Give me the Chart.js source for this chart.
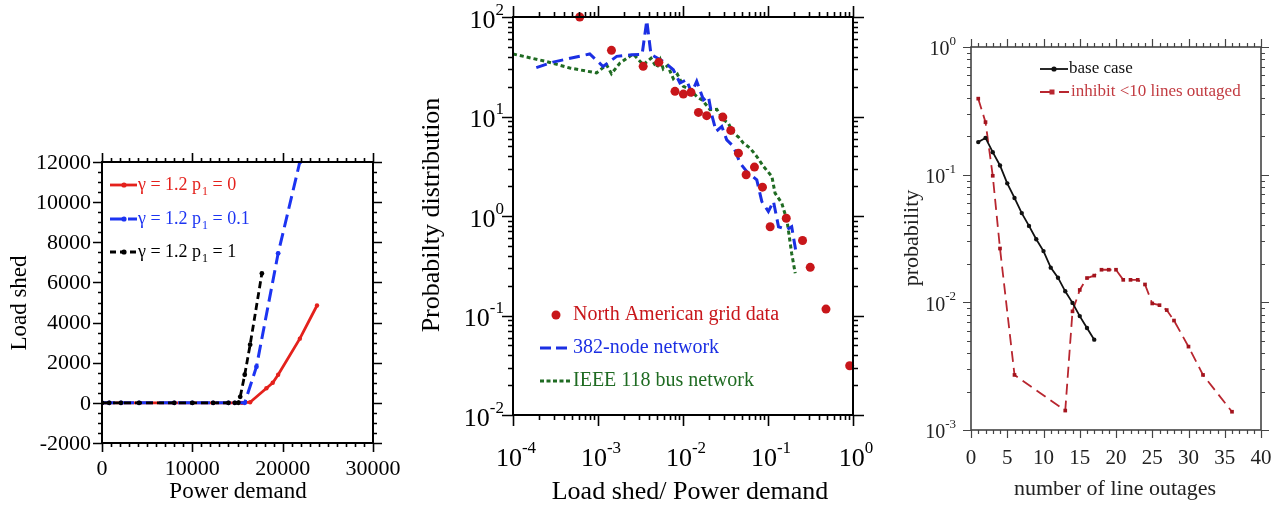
<!DOCTYPE html>
<html>
<head>
<meta charset="utf-8">
<script src="https://cdn.jsdelivr.net/npm/chart.js@4.4.0/dist/chart.umd.min.js"></script>
<style>
body { margin: 0; background: #fff; width: 1285px; height: 506px; overflow: hidden; position: relative; }
canvas { position: absolute; top: 0; }
</style>
</head>
<body>
<canvas id="c1" width="405" height="506" style="left:0px"></canvas>
<canvas id="c2" width="475" height="506" style="left:405px"></canvas>
<canvas id="c3" width="405" height="506" style="left:880px"></canvas>
<script>
// ---- panel 1 : load shed vs power demand
const demandRed = [0, 800, 2100, 4100, 8000, 10000, 12300, 14000, 14700, 15500, 16400, 18200, 18900, 19500, 21900, 23800];
const shedRed = [0, 0, 0, 0, 0, 0, 0, 0, 0, 0, 30, 730, 1000, 1400, 3200, 4850];
const demandBlue = [0, 800, 2100, 4100, 8000, 10000, 12300, 14000, 14700, 15800, 17100, 19500, 21900];
const shedBlue = [0, 0, 0, 0, 0, 0, 0, 0, 0, 0, 1800, 7450, 12000];
const demandBlack = [0, 800, 2100, 4100, 8000, 10000, 12300, 14000, 14700, 15100, 15300, 15800, 16400, 17700];
const shedBlack = [0, 0, 0, 0, 0, 0, 0, 0, 0, 0, 300, 1400, 2900, 6450];
const p1Labels = ['γ = 1.2 p', 'γ = 1.2 p', 'γ = 1.2 p'];
const p1Values = ['0', '0.1', '1'];
const p1XTicks = [0, 10000, 20000, 30000];
const p1YTicks = [-2000, 0, 2000, 4000, 6000, 8000, 10000, 12000];

// ---- panel 2 : probability distribution
const gridX = [6.1e-4, 1.44e-3, 3.4e-3, 5.2e-3, 8.05e-3, 0.0101, 0.0124, 0.0152, 0.019, 0.0294, 0.0365, 0.0449, 0.0553, 0.0693, 0.0861, 0.106, 0.164, 0.255, 0.314, 0.481, 0.914];
const gridY = [100, 46.2, 31.9, 35, 17.9, 16.8, 17.5, 11.0, 10.2, 9.87, 7.25, 4.28, 2.6, 3.1, 1.95, 0.78, 0.95, 0.567, 0.305, 0.116, 0.0313];
const nodeX = [1.88e-4, 2.96e-4, 8.0e-4, 1.15e-3, 1.66e-3, 2.48e-3, 3.3e-3, 3.75e-3, 4.2e-3, 5.86e-3, 7.7e-3, 9.2e-3, 0.011, 0.0126, 0.0145, 0.0174, 0.0199, 0.0218, 0.0245, 0.0286, 0.0327, 0.0392, 0.047, 0.0562, 0.0738, 0.0845, 0.101, 0.116, 0.133, 0.167, 0.19, 0.215];
const nodeY = [31, 35.2, 42.5, 31.8, 40.2, 41.7, 42, 92, 42, 35.8, 29.5, 21.7, 23.4, 17.2, 22.6, 14.7, 15.9, 10.4, 7.08, 7.94, 5.83, 5.0, 3.4, 2.8, 2.31, 1.4, 1.11, 1.4, 0.78, 0.73, 0.78, 0.42];
const busX = [1e-4, 2.47e-4, 4.66e-4, 9.6e-4, 1.26e-3, 1.44e-3, 1.81e-3, 2.6e-3, 3.4e-3, 4.2e-3, 4.9e-3, 5.4e-3, 5.86e-3, 6.6e-3, 7.69e-3, 8.6e-3, 0.0101, 0.0118, 0.0145, 0.017, 0.0208, 0.025, 0.0299, 0.034, 0.0392, 0.045, 0.0514, 0.0616, 0.0738, 0.0885, 0.111, 0.121, 0.145, 0.167, 0.19, 0.209];
const busY = [42.5, 35.7, 30.7, 27.4, 33.1, 26.9, 34.4, 42.5, 33.1, 38.5, 31, 37.2, 30, 32.5, 24, 26.5, 20.1, 19, 15.9, 14.5, 11.7, 11.8, 9.27, 8.6, 6.81, 6.2, 5.4, 4.81, 3.96, 3.15, 2.5, 1.7, 1.35, 0.91, 0.42, 0.266];
const p2Names = ['North American grid data', '382-node network', 'IEEE 118 bus network'];

// ---- panel 3 : line outages
const baseX = [1, 2, 3, 4, 5, 6, 7, 8, 9, 10, 11, 12, 13, 14, 15, 16, 17];
const baseY = [0.18, 0.194, 0.15, 0.118, 0.0855, 0.0657, 0.05, 0.0397, 0.0312, 0.0252, 0.0187, 0.0156, 0.0122, 0.0099, 0.0078, 0.0063, 0.0051];
const inhibitX = [1, 2, 3, 4, 6, 13, 14, 15, 16, 17, 18, 19, 20, 21, 22, 23, 24, 25, 26, 27, 28, 30, 32, 36];
const inhibitY = [0.394, 0.258, 0.098, 0.0264, 0.0027, 0.00142, 0.0085, 0.0125, 0.0155, 0.0162, 0.018, 0.018, 0.018, 0.015, 0.015, 0.015, 0.0138, 0.0098, 0.0095, 0.0087, 0.0072, 0.0045, 0.0027, 0.00139];
const p3Names = ['base case', 'inhibit <10 lines outaged'];
const p3XTicks = [0, 5, 10, 15, 20, 25, 30, 35, 40];

const SERIF = '"Liberation Serif", "Times New Roman", serif';

function pts(xs, ys) {
  return xs.map((x, i) => ({ x: x, y: ys[i] }));
}
function range(a, b, step) {
  const out = [];
  for (let v = a; v <= b + 1e-9; v += step) out.push(v);
  return out;
}
function decades(e0, e1) {
  return range(e0, e1, 1).map(e => Math.pow(10, e));
}
function logMinor(e0, e1) {
  const out = [];
  for (let e = e0; e < e1; e++) for (let m = 2; m <= 9; m++) out.push(m * Math.pow(10, e));
  return out;
}

// frame + outward ticks on all four sides
function drawFrame(chart, o) {
  const ctx = chart.ctx, a = chart.chartArea;
  const xs = chart.scales.x, ys = chart.scales.y;
  ctx.save();
  ctx.strokeStyle = o.color;
  ctx.lineWidth = o.tw;
  ctx.beginPath();
  const xt = (list, len) => list.forEach(v => {
    const p = Math.round(xs.getPixelForValue(v)) + 0.5;
    ctx.moveTo(p, a.bottom); ctx.lineTo(p, a.bottom + len);
    ctx.moveTo(p, a.top); ctx.lineTo(p, a.top - len);
  });
  const yt = (list, len) => list.forEach(v => {
    const p = Math.round(ys.getPixelForValue(v)) + 0.5;
    ctx.moveTo(a.left, p); ctx.lineTo(a.left - len, p);
    ctx.moveTo(a.right, p); ctx.lineTo(a.right + len, p);
  });
  xt(o.xMajor, o.major); xt(o.xMinor, o.minor);
  yt(o.yMajor, o.major); yt(o.yMinor, o.minor);
  ctx.stroke();
  ctx.lineWidth = o.lw;
  ctx.strokeRect(a.left, a.top, a.right - a.left, a.bottom - a.top);
  ctx.restore();
}

function pow10(ctx, e, x, y, align, size, color) {
  const sup = String(e);
  ctx.font = size + 'px ' + SERIF;
  const wb = ctx.measureText('10').width;
  ctx.font = Math.round(size * 0.64) + 'px ' + SERIF;
  const ws = ctx.measureText(sup).width;
  let x0 = x;
  if (align === 'right') x0 = x - wb - ws;
  if (align === 'center') x0 = x - (wb + ws) / 2;
  ctx.fillStyle = color;
  ctx.textAlign = 'left';
  ctx.textBaseline = 'middle';
  ctx.font = size + 'px ' + SERIF;
  ctx.fillText('10', x0, y);
  ctx.font = Math.round(size * 0.64) + 'px ' + SERIF;
  ctx.fillText(sup, x0 + wb, y - size * 0.42);
}

function vText(ctx, txt, x, y, font, color) {
  ctx.save();
  ctx.translate(x, y);
  ctx.rotate(-Math.PI / 2);
  ctx.font = font;
  ctx.fillStyle = color;
  ctx.textAlign = 'center';
  ctx.textBaseline = 'middle';
  ctx.fillText(txt, 0, 0);
  ctx.restore();
}

function legendLine(ctx, x0, x1, y, color, width, dash, marker, shape) {
  ctx.save();
  ctx.strokeStyle = color;
  ctx.lineWidth = width;
  ctx.setLineDash(dash);
  ctx.beginPath(); ctx.moveTo(x0, y); ctx.lineTo(x1, y); ctx.stroke();
  ctx.fillStyle = color;
  if (shape === 'rect') ctx.fillRect(marker - 2.5, y - 2.5, 5, 5);
  else if (marker) { ctx.beginPath(); ctx.arc(marker, y, 2.6, 0, Math.PI * 2); ctx.fill(); }
  ctx.restore();
}

function baseOptions(pad, xScale, yScale) {
  return {
    responsive: false,
    animation: false,
    events: [],
    layout: { padding: pad },
    plugins: { legend: { display: false }, tooltip: { enabled: false } },
    scales: {
      x: Object.assign({ display: false }, xScale),
      y: Object.assign({ display: false }, yScale)
    }
  };
}

// ================= panel 1
const red1 = '#e4211c', blue1 = '#1c34f2', black1 = '#000';
new Chart('c1', {
  type: 'line',
  data: {
    datasets: [
      { data: pts(demandBlack, shedBlack), borderColor: black1, backgroundColor: black1, borderWidth: 2.8, borderDash: [7, 4], pointRadius: 2.4, pointBorderWidth: 0 },
      { data: pts(demandBlue, shedBlue), borderColor: blue1, backgroundColor: blue1, borderWidth: 3, borderDash: [13, 6], pointRadius: 2.4, pointBorderWidth: 0 },
      { data: pts(demandRed, shedRed), borderColor: red1, backgroundColor: red1, borderWidth: 2.8, pointRadius: 2.2, pointBorderWidth: 0 }
    ]
  },
  options: baseOptions({ left: 102, right: 32, top: 162, bottom: 63 },
    { type: 'linear', min: 0, max: 30000 },
    { type: 'linear', min: -2000, max: 12000 }),
  plugins: [{
    id: 'p1',
    afterDraw(chart) {
      const ctx = chart.ctx;
      drawFrame(chart, {
        color: '#000', lw: 2, tw: 1.6, major: 9, minor: 4,
        xMajor: p1XTicks, xMinor: range(0, 30000, 1000),
        yMajor: p1YTicks, yMinor: range(-2000, 12000, 500)
      });
      ctx.fillStyle = '#000';
      ctx.font = '22px ' + SERIF;
      ctx.textBaseline = 'middle';
      ctx.textAlign = 'right';
      p1YTicks.forEach(v => ctx.fillText(String(v), 91, chart.scales.y.getPixelForValue(v) + 1));
      ctx.textAlign = 'center';
      p1XTicks.forEach(v => ctx.fillText(String(v), chart.scales.x.getPixelForValue(v), 469));
      ctx.font = '23px ' + SERIF;
      ctx.fillText('Power demand', 238, 492);
      vText(ctx, 'Load shed', 20, 303, '23px ' + SERIF, '#000');
      // legend
      const rows = [
        { y: 185, c: red1, dash: [], w: 2.8 },
        { y: 219, c: blue1, dash: [13, 5], w: 3 },
        { y: 252, c: black1, dash: [6, 4], w: 2.8 }
      ];
      rows.forEach((r, i) => {
        legendLine(ctx, 110, 137, r.y, r.c, r.w, r.dash, 124);
        ctx.fillStyle = r.c;
        ctx.textAlign = 'left';
        ctx.textBaseline = 'middle';
        ctx.font = '18px ' + SERIF;
        let x = 138;
        ctx.fillText(p1Labels[i], x, r.y);
        x += ctx.measureText(p1Labels[i]).width;
        ctx.font = '12px ' + SERIF;
        ctx.fillText('1', x + 1, r.y + 7);
        x += ctx.measureText('1').width + 1;
        ctx.font = '18px ' + SERIF;
        ctx.fillText(' = ' + p1Values[i], x, r.y);
      });
    }
  }]
});

// ================= panel 2
const red2 = '#c8161a', blue2 = '#1b2fe3', green2 = '#1f6b22';
new Chart('c2', {
  type: 'line',
  data: {
    datasets: [
      { data: pts(gridX, gridY), showLine: false, backgroundColor: red2, borderColor: red2, pointRadius: 4.5, pointBorderWidth: 0, clip: false },
      { data: pts(nodeX, nodeY), borderColor: blue2, borderWidth: 3, borderDash: [11, 6], pointRadius: 0 },
      { data: pts(busX, busY), borderColor: green2, borderWidth: 3, borderDash: [4, 3], pointRadius: 0 }
    ]
  },
  options: baseOptions({ left: 108, right: 27, top: 17, bottom: 91 },
    { type: 'logarithmic', min: 1e-4, max: 1 },
    { type: 'logarithmic', min: 1e-2, max: 100 }),
  plugins: [{
    id: 'p2',
    afterDraw(chart) {
      const ctx = chart.ctx;
      drawFrame(chart, {
        color: '#000', lw: 2, tw: 1.6, major: 11, minor: 5,
        xMajor: decades(-4, 0), xMinor: logMinor(-4, 0),
        yMajor: decades(-2, 2), yMinor: logMinor(-2, 2)
      });
      range(-4, 0, 1).forEach(e => pow10(ctx, e, chart.scales.x.getPixelForValue(Math.pow(10, e)) + 3, 459, 'center', 26, '#000'));
      range(-2, 2, 1).forEach(e => pow10(ctx, e, 99, chart.scales.y.getPixelForValue(Math.pow(10, e)) + 4, 'right', 26, '#000'));
      ctx.fillStyle = '#000';
      ctx.font = '26px ' + SERIF;
      ctx.textAlign = 'center';
      ctx.textBaseline = 'middle';
      ctx.fillText('Load shed/ Power demand', 285, 492);
      vText(ctx, 'Probabilty distribution', 27, 215, '26px ' + SERIF, '#000');
      // legend
      ctx.fillStyle = red2;
      ctx.beginPath(); ctx.arc(151, 315, 4.5, 0, Math.PI * 2); ctx.fill();
      legendLine(ctx, 135, 167, 348, blue2, 3, [11, 5]);
      legendLine(ctx, 135, 167, 381, green2, 3, [4, 2.5]);
      ctx.font = '20px ' + SERIF;
      ctx.textAlign = 'left';
      [[red2, 315, 168], [blue2, 348, 168], [green2, 381, 168]].forEach((r, i) => {
        ctx.fillStyle = r[0];
        ctx.fillText(p2Names[i], r[2], r[1]);
      });
    }
  }]
});

// ================= panel 3
const red3 = '#b8262f', black3 = '#111';
new Chart('c3', {
  type: 'line',
  data: {
    datasets: [
      { data: pts(baseX, baseY), borderColor: black3, backgroundColor: black3, borderWidth: 1.8, pointRadius: 2.2, pointBorderWidth: 0 },
      { data: pts(inhibitX, inhibitY), borderColor: red3, backgroundColor: '#a3141d', borderWidth: 1.8, borderDash: [11, 6], pointStyle: 'rect', pointRadius: 2.6, pointBorderWidth: 0 }
    ]
  },
  options: baseOptions({ left: 91, right: 24, top: 47, bottom: 76 },
    { type: 'linear', min: 0, max: 40 },
    { type: 'logarithmic', min: 1e-3, max: 1 }),
  plugins: [{
    id: 'p3',
    afterDraw(chart) {
      const ctx = chart.ctx;
      drawFrame(chart, {
        color: '#444', lw: 1.6, tw: 1.2, major: 8, minor: 4,
        xMajor: p3XTicks, xMinor: range(0, 40, 1),
        yMajor: decades(-3, 0), yMinor: logMinor(-3, 0)
      });
      ctx.fillStyle = '#222';
      ctx.font = '21px ' + SERIF;
      ctx.textAlign = 'center';
      ctx.textBaseline = 'middle';
      p3XTicks.forEach(v => ctx.fillText(String(v), chart.scales.x.getPixelForValue(v), 458));
      range(-3, 0, 1).forEach(e => pow10(ctx, e, 76, chart.scales.y.getPixelForValue(Math.pow(10, e)) + 3, 'right', 20, '#222'));
      ctx.fillStyle = '#222';
      ctx.font = '22px ' + SERIF;
      ctx.textAlign = 'center';
      ctx.fillText('number of line outages', 235, 489);
      vText(ctx, 'probability', 32, 238, '22px ' + SERIF, '#222');
      // legend
      legendLine(ctx, 160, 188, 69, black3, 1.8, [], 174);
      legendLine(ctx, 160, 189, 92, red3, 1.8, [14, 5], 172, 'rect');
      ctx.font = '17px ' + SERIF;
      ctx.textAlign = 'left';
      ctx.fillStyle = '#111';
      ctx.fillText(p3Names[0], 189, 69);
      ctx.fillStyle = '#c23b41';
      ctx.fillText(p3Names[1], 191, 92);
    }
  }]
});
</script>
</body>
</html>
